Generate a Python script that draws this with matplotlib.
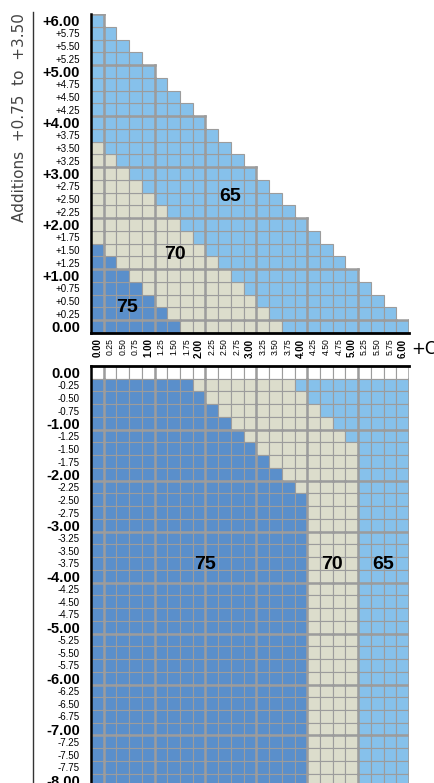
import matplotlib
matplotlib.use("Agg")
import matplotlib.pyplot as plt
import numpy as np
from matplotlib.patches import Rectangle
from matplotlib.collections import LineCollection
from matplotlib.lines import Line2D

# cell codes: D = 75 (dark blue), B = 70 (beige), L = 65 (light blue), W = empty
# top panel rows, from 0.00 up to +6.00
top_rows = [
    "DDDDDDDBBBBBBBBLLLLLLLLLL",  # 0.00
    "DDDDDDBBBBBBBBLLLLLLLLLL",   # +0.25
    "DDDDDBBBBBBBBLLLLLLLLLL",    # +0.50
    "DDDDBBBBBBBBLLLLLLLLLL",     # +0.75
    "DDDBBBBBBBBLLLLLLLLLL",      # +1.00
    "DDBBBBBBBBLLLLLLLLLL",       # +1.25
    "DBBBBBBBBLLLLLLLLLL",        # +1.50
    "BBBBBBBBLLLLLLLLLL",         # +1.75
    "BBBBBBBLLLLLLLLLL",          # +2.00
    "BBBBBBLLLLLLLLLL",           # +2.25
    "BBBBBLLLLLLLLLL",            # +2.50
    "BBBBLLLLLLLLLL",             # +2.75
    "BBBLLLLLLLLLL",              # +3.00
    "BBLLLLLLLLLL",               # +3.25
    "BLLLLLLLLLL",                # +3.50
    "LLLLLLLLLL",                 # +3.75
    "LLLLLLLLL",                  # +4.00
    "LLLLLLLL",                   # +4.25
    "LLLLLLL",                    # +4.50
    "LLLLLL",                     # +4.75
    "LLLLL",                      # +5.00
    "LLLL",                       # +5.25
    "LLL",                        # +5.50
    "LL",                         # +5.75
    "L",                          # +6.00
]

# bottom panel rows, from 0.00 down to -8.00
bottom_rows = [
    "WWWWWWWWWWWWWWWWWWWWWWWWW",  # 0.00
    "DDDDDDDDBBBBBBBBLLLLLLLLL",  # -0.25
    "DDDDDDDDDBBBBBBBBLLLLLLLL",  # -0.50
    "DDDDDDDDDDBBBBBBBBLLLLLLL",  # -0.75
    "DDDDDDDDDDDBBBBBBBBLLLLLL",  # -1.00
    "DDDDDDDDDDDDBBBBBBBBLLLLL",  # -1.25
    "DDDDDDDDDDDDDBBBBBBBBLLLL",  # -1.50
    "DDDDDDDDDDDDDDBBBBBBBLLLL",  # -1.75
    "DDDDDDDDDDDDDDDBBBBBBLLLL",  # -2.00
    "DDDDDDDDDDDDDDDDBBBBBLLLL",  # -2.25
    "DDDDDDDDDDDDDDDDDBBBBLLLL",  # -2.50
    "DDDDDDDDDDDDDDDDDBBBBLLLL",  # -2.75
    "DDDDDDDDDDDDDDDDDBBBBLLLL",  # -3.00
    "DDDDDDDDDDDDDDDDDBBBBLLLL",  # -3.25
    "DDDDDDDDDDDDDDDDDBBBBLLLL",  # -3.50
    "DDDDDDDDDDDDDDDDDBBBBLLLL",  # -3.75
    "DDDDDDDDDDDDDDDDDBBBBLLLL",  # -4.00
    "DDDDDDDDDDDDDDDDDBBBBLLLL",  # -4.25
    "DDDDDDDDDDDDDDDDDBBBBLLLL",  # -4.50
    "DDDDDDDDDDDDDDDDDBBBBLLLL",  # -4.75
    "DDDDDDDDDDDDDDDDDBBBBLLLL",  # -5.00
    "DDDDDDDDDDDDDDDDDBBBBLLLL",  # -5.25
    "DDDDDDDDDDDDDDDDDBBBBLLLL",  # -5.50
    "DDDDDDDDDDDDDDDDDBBBBLLLL",  # -5.75
    "DDDDDDDDDDDDDDDDDBBBBLLLL",  # -6.00
    "DDDDDDDDDDDDDDDDDBBBBLLLL",  # -6.25
    "DDDDDDDDDDDDDDDDDBBBBLLLL",  # -6.50
    "DDDDDDDDDDDDDDDDDBBBBLLLL",  # -6.75
    "DDDDDDDDDDDDDDDDDBBBBLLLL",  # -7.00
    "DDDDDDDDDDDDDDDDDBBBBLLLL",  # -7.25
    "DDDDDDDDDDDDDDDDDBBBBLLLL",  # -7.50
    "DDDDDDDDDDDDDDDDDBBBBLLLL",  # -7.75
    "DDDDDDDDDDDDDDDDDBBBBLLLL",  # -8.00
]

x_values = np.arange(25) * 0.25          # 0.00 .. 6.00
top_y = np.arange(25) * 0.25             # 0.00 .. +6.00
bottom_y = -np.arange(33) * 0.25         # 0.00 .. -8.00

top_labels = ["65", "70", "75"]
top_label_pos = [(2.61, 2.54), (1.53, 1.42), (0.58, 0.38)]
bottom_labels = ["75", "70", "65"]
bottom_label_pos = [(2.12, -3.77), (4.61, -3.77), (5.61, -3.77)]

cell_colors = {"D": "#5A8FCB", "B": "#DCDDCC", "L": "#86C1EB", "W": "#FFFFFF"}
grid_gray = "#9C9C9C"
tick_font = ["Liberation Sans", "DejaVu Sans"]

W, H = 434, 783
fig = plt.figure(figsize=(W / 100, H / 100), dpi=100)


def box(left, top, right, bottom):
    return [left / W, 1 - bottom / H, (right - left) / W, (bottom - top) / H]


def draw_cells(ax, rows, y_values, thick_top):
    thick = []
    for r, (row, y) in enumerate(zip(rows, y_values)):
        for i, code in enumerate(row):
            x = x_values[i]
            ax.add_patch(Rectangle((x - 0.125, y - 0.125), 0.25, 0.25,
                                   facecolor=cell_colors[code], edgecolor=grid_gray,
                                   lw=0.8, zorder=1))
            if i % 4 == 0:
                thick.append([(x + 0.125, y - 0.125), (x + 0.125, y + 0.125)])
            if r % 4 == 0:
                if thick_top:
                    thick.append([(x - 0.125, y + 0.125), (x + 0.125, y + 0.125)])
                elif r > 0:
                    thick.append([(x - 0.125, y - 0.125), (x + 0.125, y - 0.125)])
    ax.add_collection(LineCollection(thick, colors=grid_gray, linewidths=1.8,
                                     capstyle="projecting", zorder=2))


def style_yticks(ax, values, labels):
    ax.set_yticks(values, labels)
    for v, t in zip(values, ax.get_yticklabels()):
        t.set_family(tick_font)
        if abs(v - round(v)) < 1e-9:
            t.set_fontsize(10.5)
            t.set_fontweight("bold")
        else:
            t.set_fontsize(7)
    ax.tick_params(axis="y", length=0, pad=8)


# top panel
ax_top = fig.add_axes(box(91, 14, 409, 333))
draw_cells(ax_top, top_rows, top_y, True)
ax_top.set_xlim(-0.125, 6.125)
ax_top.set_ylim(-0.125, 6.125)
for side in ["top", "right"]:
    ax_top.spines[side].set_visible(False)
ax_top.spines["left"].set_linewidth(1.8)
ax_top.spines["bottom"].set_linewidth(2.0)
ax_top.spines["left"].set_zorder(3)
ax_top.spines["bottom"].set_zorder(3)

top_ticklabels = ["0.00"] + [f"+{v:.2f}" for v in top_y[1:]]
style_yticks(ax_top, top_y, top_ticklabels)

ax_top.set_xticks(x_values, [f"{v:.2f}" for v in x_values], rotation=90)
for v, t in zip(x_values, ax_top.get_xticklabels()):
    t.set_family(tick_font)
    if abs(v - round(v)) < 1e-9:
        t.set_fontsize(7)
        t.set_fontweight("bold")
    else:
        t.set_fontsize(6.2)
ax_top.tick_params(axis="x", length=0, pad=4)

for txt, (x, y) in zip(top_labels, top_label_pos):
    ax_top.text(x, y, txt, ha="center", va="center", fontsize=14,
                fontweight="bold", family=["Liberation Sans", "DejaVu Sans"], zorder=4)

# bottom panel
ax_bot = fig.add_axes(box(91, 366, 409, 783))
draw_cells(ax_bot, bottom_rows, bottom_y, False)
ax_bot.set_xlim(-0.125, 6.125)
ax_bot.set_ylim(0.125 - (783 - 366) / 12.74 * 0.25, 0.125)
for side in ["bottom", "right"]:
    ax_bot.spines[side].set_visible(False)
ax_bot.spines["left"].set_linewidth(1.8)
ax_bot.spines["top"].set_linewidth(2.0)
ax_bot.spines["left"].set_zorder(3)
ax_bot.spines["top"].set_zorder(3)
ax_bot.set_xticks([])

bottom_ticklabels = ["0.00"] + [f"-{-v:.2f}" for v in bottom_y[1:]]
style_yticks(ax_bot, bottom_y, bottom_ticklabels)

for txt, (x, y) in zip(bottom_labels, bottom_label_pos):
    ax_bot.text(x, y, txt, ha="center", va="center", fontsize=14,
                fontweight="bold", family=["Liberation Sans", "DejaVu Sans"], zorder=4)

# extras
fig.text(411 / W, 1 - 349 / H, "+C", fontsize=12, ha="left", va="center")
fig.text(20 / W, 1 - 13 / H, "Additions  +0.75  to  +3.50", rotation=90,
         ha="center", va="top", fontsize=11, color="#444444")
fig.add_artist(Line2D([33 / W, 33 / W], [0, 1 - 12 / H], transform=fig.transFigure,
                      color="#333333", lw=1.0))

fig.savefig("out.png", dpi=100, facecolor="white")
